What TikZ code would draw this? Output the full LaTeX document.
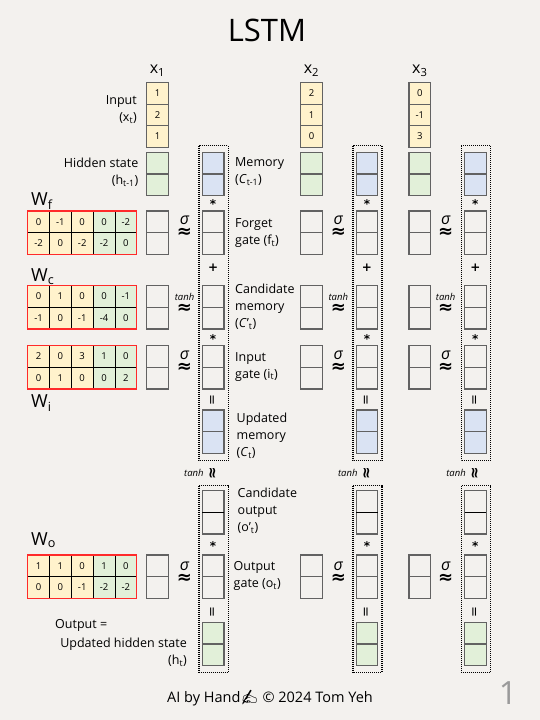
\documentclass[tikz,border=0pt]{standalone}
\usepackage{fontspec}
\setmainfont{Open Sans}
\newfontfamily\symfont{DejaVu Sans}
\newfontfamily\emojifont{Noto Emoji}
\usetikzlibrary{calc}
\definecolor{paper}{HTML}{F3F1EE}
\definecolor{cy}{HTML}{FFF2CC}
\definecolor{cg}{HTML}{E2F0D9}
\definecolor{cb}{HTML}{DAE3F3}
\definecolor{cgray}{HTML}{626262}
\definecolor{mred}{HTML}{FF2A2A}
\definecolor{pgnum}{HTML}{9A9A9A}
\newcommand\sigt{{\fontsize{16}{13.5}\selectfont\itshape σ}}
\newcommand\tanht{{\fontsize{9.5}{13.5}\selectfont\itshape tanh}}
\newcommand\apx{{\symfont\bfseries\fontsize{18}{13.5}\selectfont ≈}}
\newcommand\vtwo[4]{%
  \node[cell, fill=#4] (#1-1) at (#2,#3) {};
  \node[cell, fill=#4] (#1-2) at (#2,#3+21.65) {};
}
\newcommand\wmat[3]{%
  \foreach \v [count=\k from 0] in {#3} {
    \pgfmathtruncatemacro\mr{int(\k/5)}
    \pgfmathtruncatemacro\mc{mod(\k,5)}
    \ifnum\mc<3 \def\fc{cy}\else\def\fc{cg}\fi
    \node[mcell, fill=\fc] (#1-\mr-\mc) at (27.7+21.8*\mc, #2+21.65*\mr) {\v};
  }
  \draw[mred, line width=1.5pt] (#1-0-0.north west) rectangle (#1-1-4.south east);
}
\begin{document}
\begin{tikzpicture}[x=1pt,y=-1pt,
  cell/.style={draw=cgray, line width=1.2pt, minimum width=21.6pt, minimum height=21.65pt,
    inner sep=0pt, outer sep=0pt, anchor=north west, font=\fontsize{9.5}{10}\selectfont},
  mcell/.style={draw=black, line width=0.8pt, minimum width=21.8pt, minimum height=21.65pt,
    inner sep=0pt, outer sep=0pt, anchor=north west, font=\fontsize{9.5}{10}\selectfont},
  lbl/.style={font=\fontsize{12.5}{17}\selectfont, inner sep=0pt, align=left, anchor=west},
  rlbl/.style={font=\fontsize{12.5}{17}\selectfont, inner sep=0pt, align=right, anchor=east},
  wlbl/.style={font=\fontsize{18}{20}\selectfont, inner sep=0pt, anchor=west},
  xlbl/.style={font=\fontsize{16}{18}\selectfont, inner sep=0pt},
  act/.style={font=\fontsize{13}{13.5}\selectfont, align=center, inner sep=0pt},
  vapprox/.style={font=\symfont\bfseries\fontsize{15}{15}\selectfont, inner sep=0pt, rotate=90},
  tnh/.style={font=\fontsize{9.5}{10}\selectfont\itshape, inner sep=0pt},
  op/.style={font=\symfont\bfseries\fontsize{12}{12}\selectfont, inner sep=0pt},
  veq/.style={font=\symfont\fontsize{13}{13}\selectfont, inner sep=0pt, rotate=90},
  dotbox/.style={draw=black, line width=1.3pt, dash pattern=on 1pt off 1pt}
]
\fill[paper] (0,0) rectangle (540,720);
\useasboundingbox (0,0) rectangle (540,720);

\node[font=\fontsize{31}{33}\selectfont, inner sep=0pt] (title) at (267,30) {LSTM};

% weight matrices
\wmat{wf}{211}{0,-1,0,0,-2,-2,0,-2,-2,0}
\wmat{wc}{285.7}{0,1,0,0,-1,-1,0,-1,-4,0}
\wmat{wi}{345.7}{2,0,3,1,0,0,1,0,0,2}
\wmat{wo}{555}{1,1,0,1,0,0,0,-1,-2,-2}
\node[wlbl] (lwf) at (31,201) {W\textsubscript{f}};
\node[wlbl] (lwc) at (31,276.5) {W\textsubscript{c}};
\node[wlbl] (lwi) at (31,403) {W\textsubscript{i}};
\node[wlbl] (lwo) at (31,540) {W\textsubscript{o}};

% left labels
\node[rlbl] (linput) at (137,110) {Input\\(x\textsubscript{t})};
\node[rlbl] (lhid) at (138.5,172) {Hidden state\\(h\textsubscript{t-1})};
\node[lbl] (lout1) at (55,625.5) {Output =};
\node[rlbl] (lout2) at (187,652.5) {Updated hidden state\\(h\textsubscript{t})};

% middle labels
\node[lbl] (lmem) at (235,171.6) {Memory\\(\textit{C}\textsubscript{t-1})};
\node[lbl] (lfg) at (235,233.4) {Forget\\gate (f\textsubscript{t})};
\node[lbl] (lcm) at (235,306.7) {Candidate\\memory\\(\textit{C}'\textsubscript{t})};
\node[lbl] (lig) at (235,366.7) {Input\\gate (i\textsubscript{t})};
\node[lbl] (lum) at (236.5,435.5) {Updated\\memory\\(\textit{C}\textsubscript{t})};
\node[lbl] (lco) at (237.5,511) {Candidate\\output\\(o'\textsubscript{t})};
\node[lbl] (log) at (233.5,576) {Output\\gate (o\textsubscript{t})};

\foreach \col/\px/\mx/\sx/\vals in {1/146.7/202.3/184.5/{1,2,1}, 2/300.7/356.2/338.3/{2,1,0}, 3/409/464.5/445.7/{0,-1,3}} {
  \node[xlbl] (xl\col) at (\px+10.8,71) {x\textsubscript{\col}};
  \foreach \v [count=\k from 0] in \vals {
    \node[cell, fill=cy] (x\col-\k) at (\px,82.5+21.6*\k) {\v};
  }
  \vtwo{h\col}{\px}{152.3}{cg}
  \vtwo{m\col}{\mx}{152.3}{cb}
  \vtwo{fp\col}{\px}{211}{none}
  \vtwo{f\col}{\mx}{211}{none}
  \vtwo{cp\col}{\px}{285.7}{none}
  \vtwo{c\col}{\mx}{285.7}{none}
  \vtwo{ip\col}{\px}{345.7}{none}
  \vtwo{i\col}{\mx}{345.7}{none}
  \vtwo{u\col}{\mx}{410}{cb}
  \vtwo{co\col}{\mx}{490.7}{none}
  \draw[black, line width=0.9pt] (co\col-1.south west) -- (co\col-1.south east);
  \vtwo{op\col}{\px}{555}{none}
  \vtwo{o\col}{\mx}{555}{none}
  \vtwo{ht\col}{\mx}{622.3}{cg}
  \draw[dotbox] ($(m\col-1.north west)+(-3.3,-6.6)$) rectangle ($(u\col-2.south east)+(4.3,7.4)$);
  \draw[dotbox] ($(co\col-1.north west)+(-3.3,-5)$) rectangle ($(ht\col-2.south east)+(4.3,6.6)$);
  % operators
  \node[op] (s1\col) at (\mx+10.8,204) {*};
  \node[op] (s2\col) at (\mx+10.8,268) {+};
  \node[op] (s3\col) at (\mx+10.8,339) {*};
  \node[veq] (s4\col) at (\mx+10.8,400) {=};
  \node[tnh, anchor=east] (t\col) at (\mx+1.5,473) {tanh};
  \node[vapprox] (va\col) at (\mx+11,473) {≈};
  \node[op] (s5\col) at (\mx+10.8,546) {*};
  \node[veq] (s6\col) at (\mx+10.8,612) {=};
  % activations
  \node[act] (af\col) at (\sx,226.5) {\sigt\\\apx};
  \node[act] (ac\col) at (\sx,303.5) {\tanht\\\apx};
  \node[act] (ai\col) at (\sx,361.5) {\sigt\\\apx};
  \node[act] (ao\col) at (\sx,572.5) {\sigt\\\apx};
}

\node[font=\fontsize{14.5}{16}\selectfont, inner sep=0pt] (footer) at (270,698) {AI by Hand{\emojifont ✍} © 2024 Tom Yeh};
\node[font=\fontsize{32}{34}\selectfont, text=pgnum, inner sep=0pt] (pg) at (508,693) {1};
\end{tikzpicture}
\end{document}
